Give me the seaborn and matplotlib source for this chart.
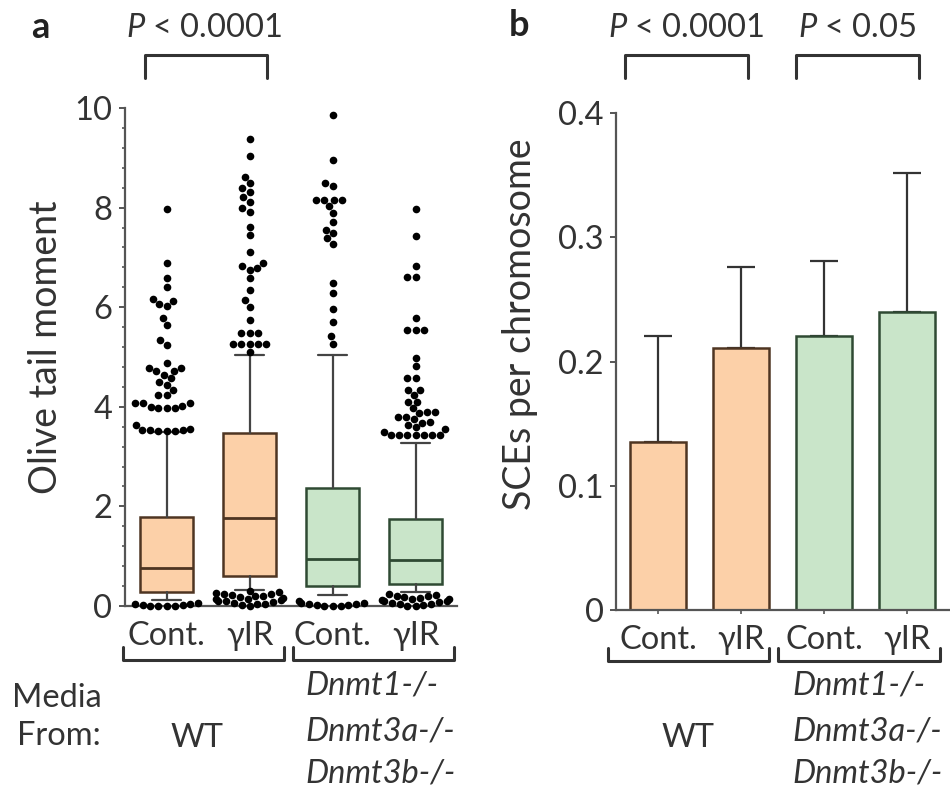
import warnings
import numpy as np
import pandas as pd
import seaborn as sns
import matplotlib.pyplot as plt
from matplotlib.lines import Line2D
from matplotlib.ticker import AutoMinorLocator

warnings.filterwarnings("ignore")

# ---- data ----
groups = ["WT Cont.", "WT γIR", "KO Cont.", "KO γIR"]
tick_labels = ["Cont.", "γIR", "Cont.", "γIR"]

# panel a: olive tail moment box stats
q1 = [0.29, 0.61, 0.41, 0.44]
median = [0.76, 1.76, 0.94, 0.92]
q3 = [1.79, 3.47, 2.36, 1.74]
whisker_low = [0.12, 0.32, 0.22, 0.29]
whisker_high = [3.5, 5.05, 5.05, 3.27]

# points above the upper whisker
high_wt_cont = [7.97, 6.88, 6.58, 6.41, 6.16, 6.06, 6.02, 6.12, 5.78, 5.64, 5.34, 5.24,
                4.87, 4.77, 4.77, 4.71, 4.71, 4.64, 4.57, 4.50, 4.44, 4.34, 4.24, 4.24,
                4.07, 4.07, 4.07, 4.02, 4.0, 3.97, 3.97, 3.97, 3.63, 3.55, 3.53, 3.53,
                3.53, 3.52, 3.52, 3.51]
high_wt_ir = [9.37, 9.04, 8.62, 8.49, 8.39, 8.32, 8.22, 8.12, 7.99, 7.92, 7.62, 7.45,
              7.11, 6.88, 6.82, 6.78, 6.75, 6.58, 6.35, 6.14, 6.01, 5.74, 5.48, 5.48,
              5.48, 5.27, 5.27, 5.27, 5.27, 5.27, 5.11]
high_ko_cont = [9.86, 8.96, 8.49, 8.43, 8.15, 8.15, 8.15, 8.15, 8.03, 7.89, 7.72, 7.55,
                7.48, 7.38, 7.27, 6.49, 6.28, 5.96, 5.71, 5.42, 5.27]
high_ko_ir = [7.98, 7.42, 6.83, 6.61, 6.61, 5.78, 5.54, 5.54, 5.54, 4.97, 4.81, 4.57,
              4.57, 4.34, 4.34, 4.24, 4.10, 4.10, 3.97, 3.90, 3.90, 3.87, 3.80, 3.80,
              3.75, 3.70, 3.68, 3.63, 3.60, 3.55, 3.50, 3.43, 3.43, 3.43, 3.43, 3.43,
              3.43, 3.43]

# points below the lower whisker (clusters near zero)
low_wt_cont = [0.06, 0.04, 0.03, 0.02, 0.01, 0.0, 0.0, 0.05, 0.01]
low_wt_ir = [0.3, 0.28, 0.26, 0.24, 0.22, 0.2, 0.18, 0.16, 0.14, 0.12, 0.1, 0.08,
             0.06, 0.04, 0.02, 0.0, 0.25, 0.15, 0.05, 0.2, 0.1]
low_ko_cont = [0.1, 0.07, 0.05, 0.03, 0.02, 0.01, 0.0, 0.0, 0.04, 0.06]
low_ko_ir = [0.25, 0.22, 0.2, 0.18, 0.16, 0.14, 0.12, 0.1, 0.08, 0.06, 0.04, 0.02,
             0.0, 0.15, 0.05, 0.2, 0.1, 0.01]

# panel b: SCEs per chromosome
sce_mean = [0.1355, 0.2106, 0.2205, 0.240]
sce_err = [0.085, 0.0657, 0.0604, 0.1115]

fills = ["#FCD0A8", "#FCD0A8", "#C9E5C9", "#C9E5C9"]
edges = ["#4e3522", "#4e3522", "#2f4a33", "#2f4a33"]

sns.set_style("white")
plt.rcParams["font.family"] = ["Lato", "DejaVu Sans"]
plt.rcParams["mathtext.fontset"] = "custom"
plt.rcParams["mathtext.rm"] = "Lato"
plt.rcParams["mathtext.it"] = "Lato:italic"
text_color = "#333333"
axis_color = "#555555"
fs = 23.5
label_fs = 27

fig = plt.figure(figsize=(9.5, 7.93), dpi=100)
W, H = 950.0, 793.0


def fx(px):
    return px / W


def fy(py):
    return 1 - py / H


ax_a = fig.add_axes([fx(125), fy(606), (457 - 125) / W, (606 - 108) / H])
ax_b = fig.add_axes([fx(616), fy(610), (950 - 616) / W, (610 - 113) / H])

# ---- panel a ----
stats = []
for i in range(4):
    stats.append(dict(med=median[i], q1=q1[i], q3=q3[i],
                      whislo=whisker_low[i], whishi=whisker_high[i], fliers=[]))
bp = ax_a.bxp(stats, positions=range(4), widths=0.63, patch_artist=True,
              showfliers=False, capwidths=0.35,
              whiskerprops=dict(color="#444444", linewidth=1.6),
              capprops=dict(color="#444444", linewidth=1.6),
              medianprops=dict(linewidth=2))
for i, box in enumerate(bp["boxes"]):
    box.set_facecolor(fills[i])
    box.set_edgecolor(edges[i])
    box.set_linewidth(1.8)
    bp["medians"][i].set_color(edges[i])


def long_form(lists):
    return pd.DataFrame({
        "group": [g for g, vals in zip(groups, lists) for _ in vals],
        "value": [v for vals in lists for v in vals],
    })


df_points = pd.concat([
    long_form([high_wt_cont, high_wt_ir, high_ko_cont, high_ko_ir]),
    long_form([low_wt_cont, low_wt_ir, low_ko_cont, low_ko_ir]),
])
sns.swarmplot(data=df_points, x="group", y="value", order=groups, color="black",
              size=5.5, ax=ax_a, zorder=3, clip_on=False)

ax_a.set_xlim(-0.5, 3.5)
ax_a.set_ylim(0, 10)
ax_a.set_yticks([0, 2, 4, 6, 8, 10])
ax_a.yaxis.set_minor_locator(AutoMinorLocator(5))
ax_a.set_xticks(range(4))
ax_a.set_xticklabels(tick_labels)
ax_a.set_xlabel("")
ax_a.set_ylabel("Olive tail moment", fontsize=label_fs, color=text_color)
ax_a.yaxis.set_label_coords(-0.183, 0.52)

# ---- panel b ----
df_b = pd.DataFrame({"group": groups, "sce": sce_mean})
sns.barplot(data=df_b, x="group", y="sce", hue="group", order=groups,
            palette=fills, saturation=1, width=0.67, legend=False, ax=ax_b, zorder=2)
for i, bar in enumerate(ax_b.patches):
    bar.set_edgecolor(edges[i])
    bar.set_linewidth(1.8)
ax_b.errorbar(range(4), sce_mean, yerr=[[0] * 4, sce_err], fmt="none",
              ecolor="#333333", elinewidth=1.6, capsize=10, capthick=1.6, zorder=1)
ax_b.set_xlim(-0.506, 3.52)
ax_b.set_ylim(0, 0.4)
ax_b.set_yticks([0, 0.1, 0.2, 0.3, 0.4])
ax_b.set_yticklabels(["0", "0.1", "0.2", "0.3", "0.4"])
ax_b.set_xticks(range(4))
ax_b.set_xticklabels(tick_labels)
ax_b.set_xlabel("")
ax_b.set_ylabel("SCEs per chromosome", fontsize=label_fs, color=text_color)
ax_b.yaxis.set_label_coords(-0.235, 0.575)

for ax in (ax_a, ax_b):
    sns.despine(ax=ax)
    for side in ("left", "bottom"):
        ax.spines[side].set_color(axis_color)
        ax.spines[side].set_linewidth(1.6)
    ax.tick_params(axis="y", which="major", direction="out", length=4, width=1.4,
                   color=axis_color, labelsize=fs, labelcolor=text_color, pad=5, left=True)
    ax.tick_params(axis="y", which="minor", direction="out", length=2.5, width=1.2,
                   color=axis_color, left=True)
    ax.tick_params(axis="x", direction="out", length=3, width=1.2, color=axis_color,
                   labelsize=fs, labelcolor=text_color, pad=8, bottom=True)

# ---- annotations ----
fig.text(fx(31), fy(38), "a", fontsize=26, fontweight="bold", color="#222222", va="baseline")
fig.text(fx(509), fy(36), "b", fontsize=26, fontweight="bold", color="#222222", va="baseline")

for cx, label in [(204, "$P$ < 0.0001"), (686, "$P$ < 0.0001"), (857, "$P$ < 0.05")]:
    fig.text(fx(cx), fy(37), label, fontsize=fs, color=text_color, ha="center", va="baseline")


def bracket(x0, x1, y_line, y_leg):
    xs = [fx(x0), fx(x0), fx(x1), fx(x1)]
    ys = [fy(y_leg), fy(y_line), fy(y_line), fy(y_leg)]
    fig.add_artist(Line2D(xs, ys, color="#333333", linewidth=2.2, transform=fig.transFigure))


# significance brackets
bracket(145, 267, 55, 78)
bracket(625, 748, 55, 78)
bracket(796, 919, 55, 78)
# group brackets below the categories
bracket(123, 284, 660, 647)
bracket(293, 454, 660, 647)
bracket(608, 769, 661, 648)
bracket(778, 940, 661, 648)

fig.text(fx(57), fy(707), "Media", fontsize=fs, color=text_color, ha="center", va="baseline")
fig.text(fx(59), fy(745), "From:", fontsize=fs, color=text_color, ha="center", va="baseline")
for cx in (197, 688):
    fig.text(fx(cx), fy(747), "WT", fontsize=fs, color=text_color, ha="center", va="baseline")
for left in (305, 792):
    for yb, name in [(695, "Dnmt1-/-"), (740, "Dnmt3a-/-"), (782, "Dnmt3b-/-")]:
        fig.text(fx(left), fy(yb), name, fontsize=fs, color=text_color,
                 style="italic", ha="left", va="baseline")

plt.savefig("out.png", dpi=100)
